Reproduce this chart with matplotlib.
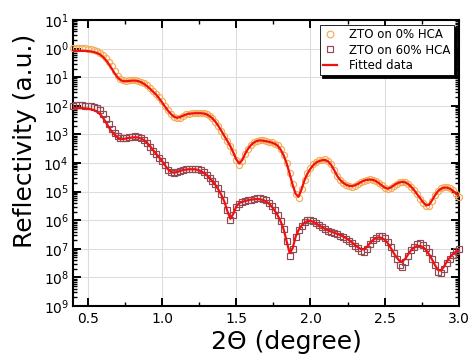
import numpy as np
import matplotlib
matplotlib.use("Agg")
import matplotlib.pyplot as plt
from matplotlib.ticker import FixedLocator, FixedFormatter, LogLocator, MultipleLocator, NullFormatter

# 2-theta grid (degree)
two_theta = np.round(np.arange(0.40, 3.001, 0.02), 2)

# log10 reflectivity, ZTO on 0% HCA (measured)
log_r_0 = [
    0.02, 0.03, 0.03, 0.02, 0.01, 0.00, -0.02, -0.05, -0.09, -0.15,
    -0.23, -0.33, -0.46, -0.60, -0.78, -0.95, -1.07, -1.11, -1.12, -1.11,
    -1.10, -1.10, -1.12, -1.16, -1.21, -1.29, -1.38, -1.48, -1.58, -1.71,
    -1.85, -2.00, -2.15, -2.28, -2.38, -2.44, -2.41, -2.35, -2.30, -2.27,
    -2.25, -2.24, -2.24, -2.24, -2.25, -2.28, -2.34, -2.42, -2.55, -2.70,
    -2.87, -3.05, -3.22, -3.40, -3.62, -3.88, -4.07, -3.92, -3.68, -3.50,
    -3.36, -3.27, -3.22, -3.20, -3.21, -3.23, -3.25, -3.28, -3.32, -3.38,
    -3.52, -3.72, -4.00, -4.36, -4.75, -5.10, -5.22, -4.92, -4.60, -4.36,
    -4.18, -4.05, -3.96, -3.91, -3.88, -3.87, -3.93, -4.05, -4.24, -4.45,
    -4.60, -4.70, -4.77, -4.82, -4.83, -4.80, -4.74, -4.68, -4.62, -4.58,
    -4.57, -4.58, -4.62, -4.70, -4.78, -4.87, -4.92, -4.88, -4.80, -4.72,
    -4.67, -4.65, -4.67, -4.73, -4.83, -4.95, -5.10, -5.25, -5.40, -5.52,
    -5.50, -5.32, -5.12, -4.97, -4.88, -4.83, -4.83, -4.87, -4.95, -5.07,
    -5.18,
]

# log10 reflectivity, ZTO on 60% HCA (measured)
log_r_60 = [
    -2.00, -1.99, -1.99, -1.99, -2.00, -2.00, -2.01, -2.03, -2.08, -2.16,
    -2.28, -2.45, -2.64, -2.81, -2.95, -3.07, -3.13, -3.13, -3.11, -3.09,
    -3.08, -3.07, -3.09, -3.13, -3.20, -3.31, -3.44, -3.57, -3.70, -3.81,
    -3.93, -4.08, -4.24, -4.33, -4.36, -4.33, -4.28, -4.24, -4.22, -4.21,
    -4.20, -4.20, -4.22, -4.26, -4.32, -4.41, -4.51, -4.62, -4.74, -4.89,
    -5.07, -5.30, -5.65, -5.98, -5.82, -5.55, -5.42, -5.37, -5.34, -5.31,
    -5.28, -5.26, -5.24, -5.24, -5.26, -5.31, -5.40, -5.51, -5.65, -5.82,
    -6.02, -6.30, -6.72, -7.25, -7.02, -6.58, -6.35, -6.19, -6.08, -6.01,
    -5.99, -6.04, -6.11, -6.18, -6.25, -6.32, -6.38, -6.42, -6.46, -6.50,
    -6.54, -6.59, -6.65, -6.72, -6.80, -6.89, -6.98, -7.06, -7.10, -7.00,
    -6.84, -6.70, -6.61, -6.56, -6.56, -6.62, -6.75, -6.94, -7.15, -7.36,
    -7.55, -7.63, -7.45, -7.24, -7.05, -6.92, -6.84, -6.81, -6.85, -6.96,
    -7.12, -7.34, -7.58, -7.80, -7.86, -7.70, -7.50, -7.34, -7.20, -7.09,
    -7.02,
]

# log10 reflectivity, fitted models
log_fit_0 = [
    -0.08, -0.08, -0.08, -0.08, -0.08, -0.09, -0.10, -0.12, -0.15, -0.20,
    -0.28, -0.39, -0.53, -0.69, -0.86, -1.00, -1.10, -1.14, -1.14, -1.13,
    -1.12, -1.12, -1.14, -1.18, -1.24, -1.32, -1.41, -1.51, -1.61, -1.74,
    -1.88, -2.03, -2.17, -2.29, -2.38, -2.42, -2.40, -2.35, -2.31, -2.28,
    -2.27, -2.26, -2.26, -2.26, -2.27, -2.30, -2.36, -2.44, -2.56, -2.71,
    -2.88, -3.06, -3.23, -3.41, -3.63, -3.87, -4.02, -3.90, -3.68, -3.50,
    -3.37, -3.28, -3.23, -3.21, -3.22, -3.24, -3.26, -3.29, -3.33, -3.40,
    -3.54, -3.74, -4.02, -4.38, -4.76, -5.08, -5.18, -4.92, -4.60, -4.37,
    -4.20, -4.07, -3.98, -3.93, -3.90, -3.90, -3.95, -4.07, -4.25, -4.45,
    -4.59, -4.69, -4.76, -4.80, -4.81, -4.78, -4.73, -4.67, -4.62, -4.59,
    -4.58, -4.59, -4.63, -4.70, -4.78, -4.86, -4.90, -4.86, -4.79, -4.72,
    -4.68, -4.66, -4.68, -4.74, -4.84, -4.96, -5.10, -5.24, -5.38, -5.48,
    -5.46, -5.30, -5.12, -4.98, -4.90, -4.86, -4.86, -4.90, -4.97, -5.06,
    -5.14,
]

log_fit_60 = [
    -2.08, -2.08, -2.08, -2.08, -2.09, -2.10, -2.12, -2.15, -2.20, -2.28,
    -2.40, -2.56, -2.74, -2.89, -3.01, -3.11, -3.16, -3.16, -3.14, -3.12,
    -3.11, -3.10, -3.11, -3.15, -3.21, -3.30, -3.42, -3.55, -3.68, -3.80,
    -3.93, -4.08, -4.22, -4.31, -4.34, -4.32, -4.28, -4.25, -4.23, -4.22,
    -4.22, -4.22, -4.24, -4.28, -4.34, -4.42, -4.52, -4.64, -4.77, -4.93,
    -5.12, -5.35, -5.68, -5.95, -5.78, -5.52, -5.40, -5.36, -5.33, -5.30,
    -5.28, -5.27, -5.26, -5.27, -5.29, -5.34, -5.42, -5.53, -5.67, -5.84,
    -6.05, -6.33, -6.75, -7.15, -6.98, -6.58, -6.34, -6.19, -6.09, -6.03,
    -6.02, -6.06, -6.12, -6.19, -6.25, -6.31, -6.36, -6.40, -6.44, -6.48,
    -6.52, -6.57, -6.63, -6.70, -6.78, -6.87, -6.95, -7.01, -7.02, -6.94,
    -6.81, -6.70, -6.63, -6.60, -6.62, -6.68, -6.80, -6.96, -7.14, -7.30,
    -7.42, -7.45, -7.34, -7.18, -7.04, -6.95, -6.90, -6.90, -6.95, -7.05,
    -7.20, -7.38, -7.58, -7.74, -7.76, -7.62, -7.44, -7.30, -7.18, -7.10,
    -7.06,
]

# y-axis decade positions and their printed labels
decades = list(range(1, -10, -1))
decade_labels = ["$10^{%d}$" % abs(d) for d in decades]

x_ticks = [0.5, 1.0, 1.5, 2.0, 2.5, 3.0]

plt.rcParams["font.family"] = ["DejaVu Sans"]

fig = plt.figure(figsize=(4.77, 3.63), dpi=100)
ax = fig.add_axes([0.153, 0.157, 0.809, 0.788])

ax.plot(two_theta, 10.0 ** np.array(log_r_0), linestyle="none", marker="o",
        markersize=4.4, markerfacecolor="none", markeredgecolor="#F4AC55",
        markeredgewidth=0.85, label="ZTO on 0% HCA", zorder=3, clip_on=False)
ax.plot(two_theta, 10.0 ** np.array(log_r_60), linestyle="none", marker="s",
        markersize=4.0, markerfacecolor="none", markeredgecolor="#8E4A55",
        markeredgewidth=0.85, label="ZTO on 60% HCA", zorder=3, clip_on=False)
ax.plot(two_theta, 10.0 ** np.array(log_fit_0), color="#F01010", lw=1.6,
        label="Fitted data", zorder=4)
ax.plot(two_theta, 10.0 ** np.array(log_fit_60), color="#F01010", lw=1.6,
        zorder=4)

ax.set_yscale("log")
ax.set_xlim(0.4, 3.0)
ax.set_ylim(1e-9, 1e1)

ax.xaxis.set_major_locator(FixedLocator(x_ticks))
ax.xaxis.set_minor_locator(MultipleLocator(0.25))
ax.yaxis.set_major_locator(FixedLocator([10.0 ** d for d in decades]))
ax.yaxis.set_major_formatter(FixedFormatter(decade_labels))
ax.yaxis.set_minor_locator(LogLocator(base=10, subs=np.arange(2, 10), numticks=20))
ax.yaxis.set_minor_formatter(NullFormatter())

ax.tick_params(axis="both", which="major", direction="in", length=6, width=1.4,
               top=True, right=True, labelsize=10, pad=4)
ax.tick_params(axis="both", which="minor", direction="in", length=3, width=1.0,
               top=True, right=True)
ax.tick_params(axis="y", which="major", pad=3)

for s in ax.spines.values():
    s.set_linewidth(1.5)

ax.grid(True, which="major", color="#DDDDDD", lw=0.8, zorder=0)
ax.set_axisbelow(True)

ax.set_xlabel("2Θ (degree)", fontsize=18, labelpad=1)
ax.xaxis.set_label_coords(0.552, -0.085)
ax.set_ylabel("Reflectivity (a.u.)", fontsize=18)
ax.yaxis.set_label_coords(-0.092, 0.577)

leg = ax.legend(loc="upper right", fontsize=8.5, frameon=True, fancybox=False,
                shadow={"color": "black", "alpha": 1.0}, edgecolor="black",
                framealpha=1.0, borderaxespad=0.4, handlelength=1.2,
                handletextpad=1.0, borderpad=0.3, labelspacing=0.2,
                markerscale=1.1)
leg.get_frame().set_linewidth(0.6)

fig.savefig("out.png", dpi=100)
